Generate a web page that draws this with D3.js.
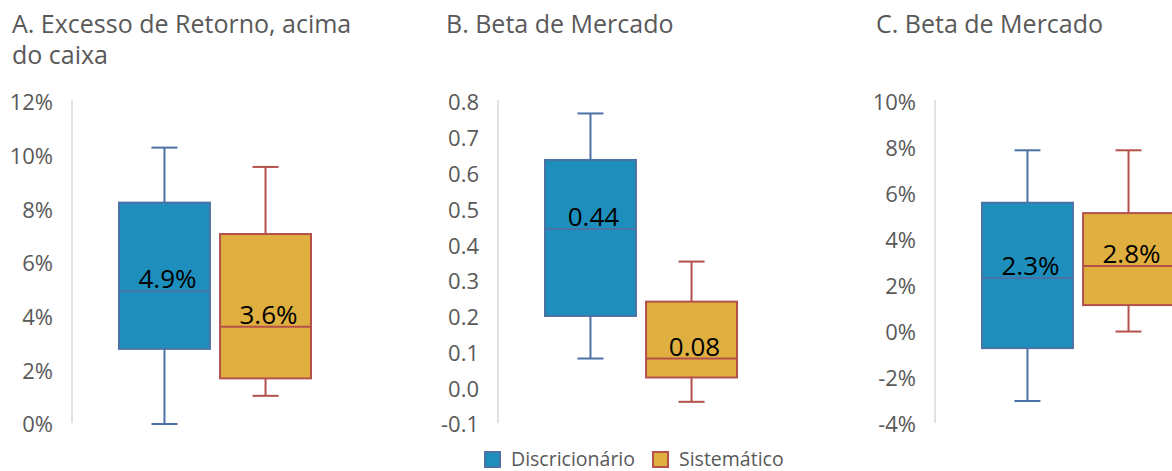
<!DOCTYPE html>
<html>
<head>
<meta charset="utf-8">
<script src="https://cdn.jsdelivr.net/npm/d3@7"></script>
<style>
  html, body { margin: 0; padding: 0; background: #fff; }
  svg { display: block; }
  text { font-family: "Open Sans", "Noto Sans", sans-serif; }
</style>
</head>
<body>
<svg id="chart" width="1172" height="471"></svg>
<script>
// ---- data ----
const categories = ["Discricionário", "Sistemático"];
const panelTitles = [["A. Excesso de Retorno, acima", "do caixa"], ["B. Beta de Mercado"], ["C. Beta de Mercado"]];

// [min, q1, median, q3, max]
const panelA_discricionario = [0.0, 2.8, 4.95, 8.25, 10.3];
const panelA_sistematico    = [1.05, 1.7, 3.62, 7.08, 9.58];
const panelB_discricionario = [0.083, 0.202, 0.445, 0.638, 0.768];
const panelB_sistematico    = [-0.038, 0.030, 0.083, 0.242, 0.354];
const panelC_discricionario = [-3.0, -0.7, 2.35, 5.62, 7.9];
const panelC_sistematico    = [0.02, 1.17, 2.87, 5.17, 7.9];

const panelA_medianLabels = ["4.9%", "3.6%"];
const panelB_medianLabels = ["0.44", "0.08"];
const panelC_medianLabels = ["2.3%", "2.8%"];

const panelA_ticks = [0, 2, 4, 6, 8, 10, 12];
const panelB_ticks = [-0.1, 0.0, 0.1, 0.2, 0.3, 0.4, 0.5, 0.6, 0.7, 0.8];
const panelC_ticks = [-4, -2, 0, 2, 4, 6, 8, 10];

const panelA_tickLabels = ["0%", "2%", "4%", "6%", "8%", "10%", "12%"];
const panelB_tickLabels = ["-0.1", "0.0", "0.1", "0.2", "0.3", "0.4", "0.5", "0.6", "0.7", "0.8"];
const panelC_tickLabels = ["-4%", "-2%", "0%", "2%", "4%", "6%", "8%", "10%"];

// ---- styles ----
const fills = ["#1e8fbd", "#dfb040"];
const strokes = ["#4a72a4", "#b4514b"];
const axisColor = "#d9d9d9";
const textColor = "#595959";

const panels = [
  { title: panelTitles[0], series: [panelA_discricionario, panelA_sistematico], labels: panelA_medianLabels,
    ticks: panelA_ticks, tickLabels: panelA_tickLabels, axisX: 72, titleX: 12 },
  { title: panelTitles[1], series: [panelB_discricionario, panelB_sistematico], labels: panelB_medianLabels,
    ticks: panelB_ticks, tickLabels: panelB_tickLabels, axisX: 498, titleX: 446 },
  { title: panelTitles[2], series: [panelC_discricionario, panelC_sistematico], labels: panelC_medianLabels,
    ticks: panelC_ticks, tickLabels: panelC_tickLabels, axisX: 935, titleX: 876 }
];

const svg = d3.select("#chart");
const yTop = 102, yBottom = 424;

panels.forEach(p => {
  const g = svg.append("g");
  const y = d3.scaleLinear()
    .domain([p.ticks[0], p.ticks[p.ticks.length - 1]])
    .range([yBottom, yTop]);
  const x = d3.scaleBand()
    .domain(categories)
    .range([p.axisX + 47, p.axisX + 47 + 192])
    .paddingInner(0.1)
    .paddingOuter(0);

  // title
  const t = g.append("text")
    .attr("x", p.titleX).attr("y", 33)
    .attr("fill", textColor)
    .style("font-size", "25px");
  p.title.forEach((line, i) => {
    t.append("tspan").attr("x", p.titleX).attr("dy", i === 0 ? 0 : 31).text(line);
  });

  // y axis
  const axis = d3.axisLeft(y)
    .tickValues(p.ticks)
    .tickFormat((d, i) => p.tickLabels[i])
    .tickSize(0)
    .tickPadding(19);
  const ag = g.append("g").attr("transform", `translate(${p.axisX},0)`).call(axis);
  ag.select(".domain").attr("stroke", axisColor).attr("stroke-width", 1.5)
    .attr("d", `M0,${yTop - 2}V${yBottom - 1}`);
  ag.selectAll(".tick text")
    .attr("fill", textColor)
    .style("font-size", "22px")
    .style("font-family", "'Open Sans', sans-serif")
    .attr("dy", "0.36em");

  // boxes
  p.series.forEach((s, i) => {
    const [mn, q1, md, q3, mx] = s;
    const cat = categories[i];
    const x0 = x(cat), bw = x.bandwidth(), cx = x0 + bw / 2;
    const capW = 26;
    const bg = g.append("g");
    // whiskers
    bg.append("line").attr("x1", cx).attr("x2", cx).attr("y1", y(mx)).attr("y2", y(q3))
      .attr("stroke", strokes[i]).attr("stroke-width", 2);
    bg.append("line").attr("x1", cx).attr("x2", cx).attr("y1", y(q1)).attr("y2", y(mn))
      .attr("stroke", strokes[i]).attr("stroke-width", 2);
    bg.append("line").attr("x1", cx - capW / 2).attr("x2", cx + capW / 2).attr("y1", y(mx)).attr("y2", y(mx))
      .attr("stroke", strokes[i]).attr("stroke-width", 2);
    bg.append("line").attr("x1", cx - capW / 2).attr("x2", cx + capW / 2).attr("y1", y(mn)).attr("y2", y(mn))
      .attr("stroke", strokes[i]).attr("stroke-width", 2);
    // box
    bg.append("rect").attr("x", x0).attr("y", y(q3)).attr("width", bw).attr("height", y(q1) - y(q3))
      .attr("fill", fills[i]).attr("stroke", strokes[i]).attr("stroke-width", 2);
    // median
    bg.append("line").attr("x1", x0).attr("x2", x0 + bw).attr("y1", y(md)).attr("y2", y(md))
      .attr("stroke", strokes[i]).attr("stroke-width", 2);
    // label
    bg.append("text").attr("x", cx + 3).attr("y", y(md) - 3)
      .attr("text-anchor", "middle")
      .attr("fill", "#000")
      .style("font-size", "26px")
      .text(p.labels[i]);
  });
});

// legend
const legendX = [484, 652];
const lg = svg.append("g");
categories.forEach((c, i) => {
  lg.append("rect").attr("x", legendX[i] + 1).attr("y", 452).attr("width", 15).attr("height", 15)
    .attr("fill", fills[i]).attr("stroke", strokes[i]).attr("stroke-width", 2);
  lg.append("text").attr("x", legendX[i] + 27).attr("y", 459).attr("dy", "0.35em")
    .attr("fill", textColor).style("font-size", "19.5px").text(c);
});
</script>
</body>
</html>
